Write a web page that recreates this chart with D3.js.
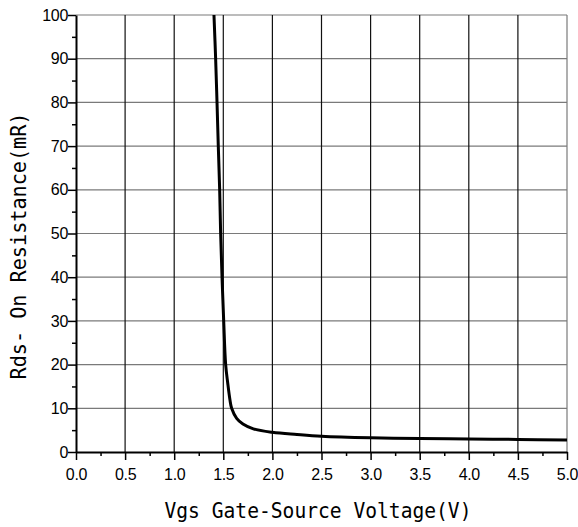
<!DOCTYPE html>
<html lang="en">
<head>
<meta charset="UTF-8">
<title>Rds vs Vgs</title>
<script src="https://d3js.org/d3.v7.min.js"></script>
<style>
  body { margin: 0; background: #fff; }
</style>
</head>
<body>
<svg id="chart" width="578" height="527"></svg>
<script>
// curve
const vgs = [1.405, 1.422, 1.436, 1.449, 1.463, 1.473, 1.487, 1.504, 1.524, 1.545, 1.568, 1.585, 1.636, 1.70, 1.806, 2.0, 2.25, 2.5, 3.0, 3.5, 4.0, 4.5, 5.0];
const rds = [100, 90, 80, 70, 60, 50, 40, 30, 20, 15.8, 11.9, 10, 7.7, 6.4, 5.3, 4.5, 4.0, 3.6, 3.25, 3.1, 2.98, 2.88, 2.75];

const xTicks = [0, 0.5, 1.0, 1.5, 2.0, 2.5, 3.0, 3.5, 4.0, 4.5, 5.0];
const yTicks = [0, 10, 20, 30, 40, 50, 60, 70, 80, 90, 100];
const xMinor = [0.25, 0.75, 1.25, 1.75, 2.25, 2.75, 3.25, 3.75, 4.25, 4.75];
const yMinor = [5, 15, 25, 35, 45, 55, 65, 75, 85, 95];

const xTitle = "Vgs Gate-Source Voltage(V)";
const yTitle = "Rds- On Resistance(mR)";

const svg = d3.select("#chart");
const margin = { top: 15, right: 11, bottom: 75, left: 76 };
const width = +svg.attr("width");
const height = +svg.attr("height");

const x = d3.scaleLinear().domain([0, 5]).range([margin.left, width - margin.right]);
const y = d3.scaleLinear().domain([0, 100]).range([height - margin.bottom, margin.top]);

const tickFont = "'Liberation Sans', Arial, sans-serif";
const titleFont = "'DejaVu Sans Mono', monospace";

// grid
svg.append("g")
    .selectAll("line")
    .data(yTicks.slice(1))
    .join("line")
    .attr("x1", x(0)).attr("x2", x(5))
    .attr("y1", d => y(d)).attr("y2", d => y(d))
    .attr("stroke", "#7a7a7a")
    .attr("stroke-width", 1.2);

svg.append("g")
    .selectAll("line")
    .data(xTicks.slice(1))
    .join("line")
    .attr("x1", d => x(d)).attr("x2", d => x(d))
    .attr("y1", y(0)).attr("y2", y(100))
    .attr("stroke", d => d === 5 ? "#7a7a7a" : "#111")
    .attr("stroke-width", 1.2);

// axes
const xAxis = svg.append("g")
    .attr("transform", `translate(0,${y(0)})`)
    .call(d3.axisBottom(x).tickValues(xTicks).tickFormat(d3.format(".1f")).tickSize(8).tickSizeOuter(0));
xAxis.select(".domain").attr("stroke-width", 2);
xAxis.selectAll(".tick line").attr("stroke-width", 1.5);
xAxis.selectAll(".tick text")
    .attr("dy", "0.71em")
    .attr("y", 17)
    .style("font-family", tickFont)
    .style("font-size", "16px")
    .style("letter-spacing", "-0.3px")
    .attr("fill", "#000");

svg.append("g")
    .attr("transform", `translate(0,${y(0)})`)
    .call(d3.axisBottom(x).tickValues(xMinor).tickFormat("").tickSize(4).tickSizeOuter(0))
    .call(g => g.select(".domain").remove())
    .selectAll(".tick line").attr("stroke-width", 1.5);

const yAxis = svg.append("g")
    .attr("transform", `translate(${x(0)},0)`)
    .call(d3.axisLeft(y).tickValues(yTicks).tickSize(8).tickSizeOuter(0));
yAxis.select(".domain").attr("stroke-width", 2);
yAxis.selectAll(".tick line").attr("stroke-width", 1.5);
yAxis.selectAll(".tick text")
    .attr("x", -8)
    .style("font-family", tickFont)
    .style("font-size", "16px")
    .style("letter-spacing", "-0.3px")
    .attr("fill", "#000");

svg.append("g")
    .attr("transform", `translate(${x(0)},0)`)
    .call(d3.axisLeft(y).tickValues(yMinor).tickFormat("").tickSize(4).tickSizeOuter(0))
    .call(g => g.select(".domain").remove())
    .selectAll(".tick line").attr("stroke-width", 1.5);

// curve
const line = d3.line()
    .x((d, i) => x(vgs[i]))
    .y(d => y(d))
    .curve(d3.curveCatmullRom.alpha(0.5));

svg.append("path")
    .datum(rds)
    .attr("d", line)
    .attr("fill", "none")
    .attr("stroke", "#000")
    .attr("stroke-width", 3);

// titles
svg.append("text")
    .attr("x", 318)
    .attr("y", 518)
    .attr("text-anchor", "middle")
    .attr("textLength", 307)
    .attr("lengthAdjust", "spacingAndGlyphs")
    .style("font-family", titleFont)
    .style("font-size", "21px")
    .text(xTitle);

svg.append("text")
    .attr("transform", "translate(26,246) rotate(-90)")
    .attr("text-anchor", "middle")
    .attr("textLength", 267)
    .attr("lengthAdjust", "spacingAndGlyphs")
    .style("font-family", titleFont)
    .style("font-size", "21px")
    .text(yTitle);
</script>
</body>
</html>
